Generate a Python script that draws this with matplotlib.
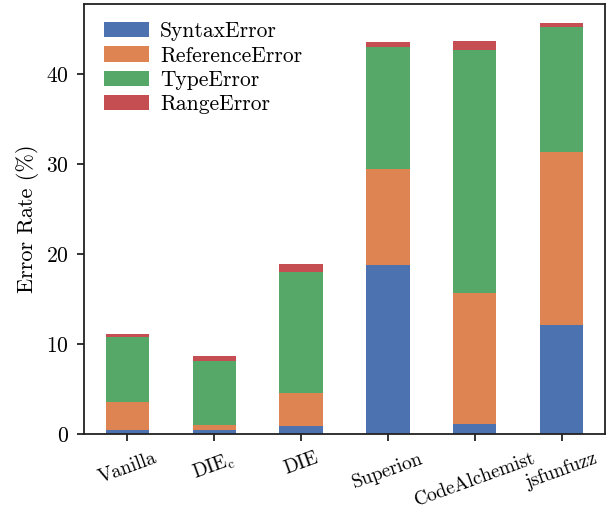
import matplotlib
matplotlib.use('Agg')
import matplotlib.pyplot as plt
import numpy as np

plt.rcParams['font.family'] = 'serif'
plt.rcParams['font.serif'] = ['cmr10']
plt.rcParams['mathtext.fontset'] = 'cm'
plt.rcParams['axes.unicode_minus'] = False
plt.rcParams['axes.formatter.use_mathtext'] = True

# data
tools = ['Vanilla', r'DIE$_{\mathrm{c}}$', 'DIE', 'Superion', 'CodeAlchemist', 'jsfunfuzz']
syntax_err = [0.45, 0.45, 0.92, 18.8, 1.1, 12.1]
reference_err = [3.1, 0.55, 3.65, 10.7, 14.6, 19.3]
type_err = [7.2, 7.1, 13.4, 13.5, 27.0, 13.9]
range_err = [0.35, 0.55, 0.9, 0.55, 1.0, 0.35]

series = [('SyntaxError', syntax_err, '#4C72B0'),
          ('ReferenceError', reference_err, '#DD8452'),
          ('TypeError', type_err, '#55A868'),
          ('RangeError', range_err, '#C44E52')]

fig, ax = plt.subplots(1, 1)
fig.set_size_inches(6.16, 5.12)

x = np.arange(len(tools))
bottom = np.zeros(len(tools))
for name, vals, col in series:
    ax.bar(x, vals, 0.5, bottom=bottom, color=col, label=name)
    bottom += np.array(vals)

ax.set_xlim(-0.5, 5.5)
ax.set_ylim(0, 47.8)
ax.set_xticks(x)
ax.set_xticklabels(tools, rotation=20, fontsize=14)
ax.tick_params(axis='both', length=5, width=1.3, color='#222222', pad=6)
ax.tick_params(axis='y', labelsize=15.5)
ax.set_ylabel('Error Rate (%)', fontsize=16, labelpad=5)
for s in ax.spines.values():
    s.set_linewidth(1.3)
    s.set_color('#222222')

ax.legend(loc='upper left', bbox_to_anchor=(0.022, 0.979), borderaxespad=0,
          frameon=False, fontsize=15.5, handlelength=2.1,
          handleheight=0.7, handletextpad=0.5, labelspacing=0.22)

plt.subplots_adjust(left=0.1364, right=0.982, top=0.992, bottom=0.1523)
plt.savefig('out.png', dpi=100)
